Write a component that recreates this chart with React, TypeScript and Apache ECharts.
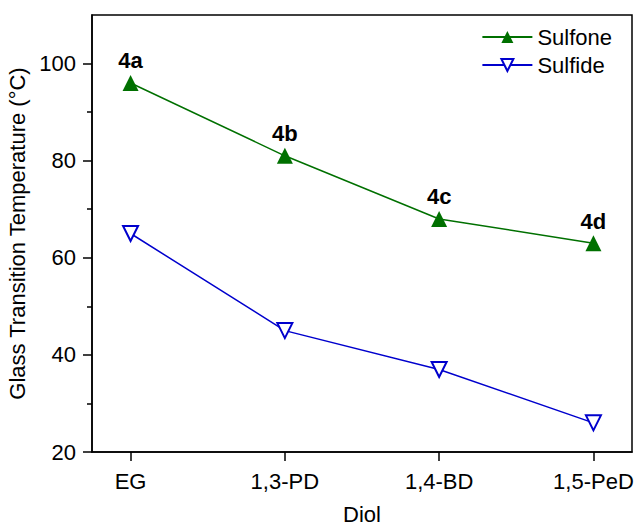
import React, { useEffect, useRef } from "react";
import * as echarts from "echarts";

const categories = ["EG", "1,3-PD", "1,4-BD", "1,5-PeD"];
const sulfone = [96, 81, 68, 63];
const sulfide = [65, 45, 37, 26];
const pointLabels = ["4a", "4b", "4c", "4d"];
const yMajorTicks = [20, 40, 60, 80, 100];
const yMinorTicks = [30, 50, 70, 90];
const xTickValues = [0, 1, 2, 3];

const FONT = "'Liberation Sans', Arial, sans-serif";
const GREEN = "#007000";
const BLUE = "#0000CD";
const FS = 22;

export default function App() {
  const ref = useRef<HTMLDivElement>(null);
  useEffect(() => {
    document.body.style.margin = "0";
    const chart = echarts.init(ref.current!, undefined, { renderer: "svg" });
    chart.setOption({
      animation: false,
      textStyle: { fontFamily: FONT },
      grid: {
        left: 92,
        top: 15,
        right: 2,
        bottom: 73,
        containLabel: false,
        outerBoundsMode: "none",
        show: true,
        borderColor: "#000",
        borderWidth: 1.5,
        backgroundColor: "transparent",
      },
      legend: {
        orient: "vertical",
        right: 17,
        top: 21,
        itemWidth: 50,
        itemHeight: 15,
        itemGap: 6,
        align: "left",
        textStyle: { fontSize: FS, color: "#000", fontFamily: FONT },
        data: ["Sulfone", "Sulfide"],
      },
      xAxis: {
        type: "value",
        min: -0.25,
        max: 3.25,
        name: "Diol",
        nameLocation: "middle",
        nameGap: 51,
        nameTextStyle: { fontSize: FS, color: "#000", fontFamily: FONT },
        axisLine: { show: true, onZero: false, lineStyle: { color: "#000", width: 1.5 } },
        axisTick: {
          show: true,
          inside: false,
          length: 9,
          customValues: xTickValues,
          lineStyle: { color: "#000", width: 1.5 },
        },
        axisLabel: {
          customValues: xTickValues,
          fontSize: FS,
          color: "#000",
          margin: 18,
          hideOverlap: false,
          formatter: (v: number) => categories[Math.round(v)] ?? "",
        },
        splitLine: { show: false },
      },
      yAxis: [
        {
          type: "value",
          min: 20,
          max: 110,
          name: "Glass Transition Temperature (\u00B0C)",
          nameLocation: "middle",
          nameGap: 57,
          nameTextStyle: { fontSize: FS, color: "#000", fontFamily: FONT },
          axisLine: { show: true, onZero: false, lineStyle: { color: "#000", width: 1.5 } },
          axisTick: {
            show: true,
            length: 9,
            customValues: yMajorTicks,
            lineStyle: { color: "#000", width: 1.5 },
          },
          axisLabel: {
            customValues: yMajorTicks,
            fontSize: FS,
            color: "#000",
            margin: 16,
          },
          splitLine: { show: false },
        },
        {
          type: "value",
          min: 20,
          max: 110,
          position: "left",
          axisLine: { show: false, onZero: false },
          axisTick: {
            show: true,
            length: 5,
            customValues: yMinorTicks,
            lineStyle: { color: "#000", width: 1.5 },
          },
          axisLabel: { show: false },
          splitLine: { show: false },
        },
      ],
      series: [
        {
          name: "Sulfone",
          type: "line",
          data: sulfone.map((v, i) => [i, v]),
          symbol: "triangle",
          symbolSize: 16,
          itemStyle: { color: GREEN },
          lineStyle: { color: GREEN, width: 1.5 },
          label: {
            show: true,
            position: "top",
            distance: 3,
            fontSize: FS,
            fontWeight: "bold",
            color: "#000",
            fontFamily: FONT,
            formatter: (p: any) => pointLabels[p.dataIndex],
          },
        },
        {
          name: "Sulfide",
          type: "line",
          data: sulfide.map((v, i) => [i, v]),
          symbol: "triangle",
          symbolRotate: 180,
          symbolSize: 15,
          itemStyle: { color: "#fff", borderColor: BLUE, borderWidth: 2 },
          lineStyle: { color: BLUE, width: 1.5 },
        },
      ],
    });
    return () => chart.dispose();
  }, []);
  return <div ref={ref} style={{ width: 634, height: 525 }} />;
}
